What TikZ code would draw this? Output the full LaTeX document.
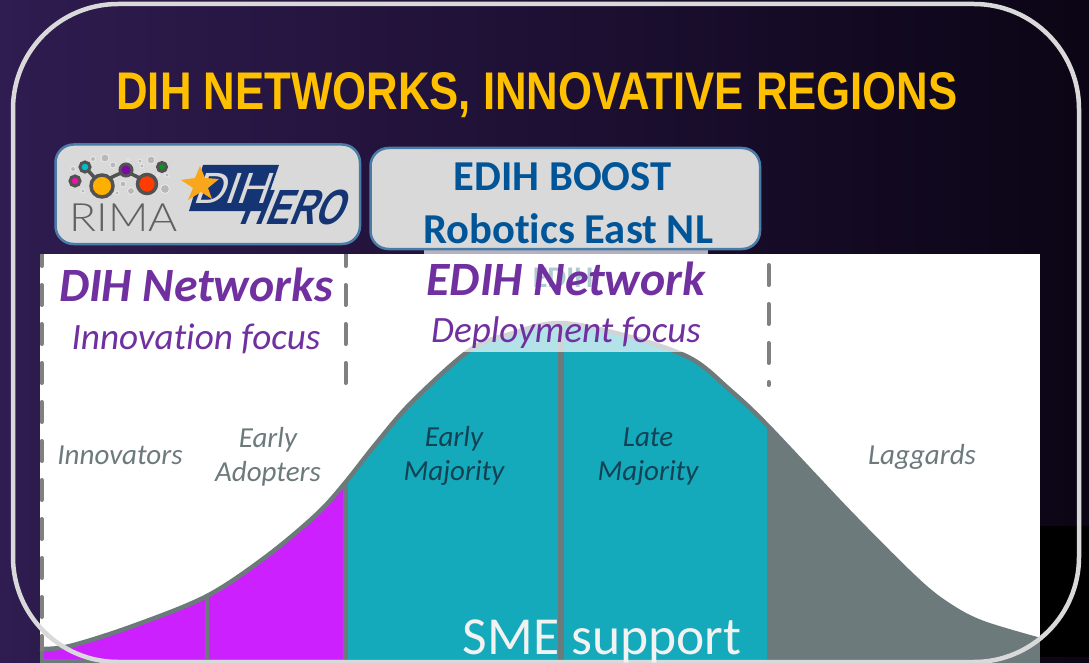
\documentclass[tikz,border=0pt]{standalone}
\usepackage{graphicx}
\usepackage{fontspec}
\setmainfont[Ligatures=NoCommon]{Carlito}
\newfontfamily\arialf{Liberation Sans}
\newfontfamily\latof[UprightFont=* Light]{Lato}
\definecolor{bgleft}{RGB}{47,28,80}
\definecolor{bgmid}{RGB}{30,16,52}
\definecolor{bgright}{RGB}{11,5,21}
\definecolor{titleyel}{RGB}{255,192,0}
\definecolor{boxfill}{RGB}{217,217,217}
\definecolor{boxedge}{RGB}{74,124,168}
\definecolor{edihblue}{RGB}{0,85,152}
\definecolor{herob}{RGB}{20,52,116}
\definecolor{netpurple}{RGB}{112,48,160}
\definecolor{curvegray}{RGB}{109,122,124}
\definecolor{dashgray}{RGB}{128,128,128}
\definecolor{fillpurple}{RGB}{204,32,255}
\definecolor{fillteal}{RGB}{20,170,187}
\definecolor{framegray}{RGB}{217,217,217}
\definecolor{darklabel}{RGB}{18,66,84}
\definecolor{cdot}{RGB}{0,190,205}
\definecolor{mdot}{RGB}{235,20,170}
\definecolor{pdot}{RGB}{120,10,165}
\definecolor{gdot}{RGB}{10,150,30}
\definecolor{ydot}{RGB}{255,175,0}
\definecolor{rdot}{RGB}{255,60,0}
\definecolor{staror}{RGB}{250,166,26}
\tikzset{
  lbl/.style={inner sep=0pt,outer sep=0pt,align=center},
  boxtxt/.style={lbl,text=edihblue,font=\bfseries\fontsize{42.6}{42.6}\selectfont},
  nethead/.style={lbl,text=netpurple,font=\bfseries\itshape\fontsize{47.8}{47.8}\selectfont},
  netsub/.style={lbl,text=netpurple,font=\itshape\fontsize{37.2}{37.2}\selectfont},
  adopter/.style={lbl,font=\itshape\fontsize{29}{34}\selectfont},
  logobox/.style={draw=boxedge,fill=boxfill,line width=2.5pt,rounded corners=18pt},
  vdash/.style={draw=dashgray,line width=4pt,line cap=round,dash pattern=on 20pt off 19pt},
  netring/.style={draw=black!68,line width=3pt},
  dotg/.style={fill=black!28,draw=black!8,line width=.8pt},
}
\def\bell{plot[smooth,tension=0.55] coordinates {(40,649) (70,646) (133,626) (207,596) (267,556) (317,514) (345,483) (375,445) (412,402) (470,350) (510,334) (560,323) (627,336) (690,358) (730,390) (767,425) (850,513) (917,580) (950,606) (983,623) (1040,640)}}
\begin{document}
\begin{tikzpicture}[x=1pt,y=-1pt]
\useasboundingbox (0,0) rectangle (1089,663);
% background
\shade[left color=bgleft,right color=bgright,middle color=bgmid] (0,0) rectangle (1089,663);
\fill[black] (1040,526) rectangle (1089,657);
% chart sheet
\fill[white] (40,254) rectangle (1040,663);
\begin{scope}
  \clip \bell -- (1040,663) -- (40,663) -- cycle;
  \fill[fillpurple] (40,254) rectangle (345,663);
  \fill[fillteal] (345,254) rectangle (767,663);
  \fill[curvegray] (767,254) rectangle (1040,663);
\end{scope}
\draw[curvegray,line width=4.5pt] \bell;
\begin{scope}
  \clip (40,254) rectangle (1040,663);
  \draw[curvegray,line width=4.5pt] (42,649) -- (42,661) -- (345,661);
  \draw[vdash] (41.5,246) -- (41.5,650);
  \draw[vdash] (345.5,246) -- (345.5,384);
\end{scope}
\begin{scope}
  \clip \bell -- (1040,663) -- (40,663) -- cycle;
  \draw[curvegray,line width=4pt] (207,560) -- (207,663);
  \draw[curvegray,line width=5pt] (345,450) -- (345,663);
  \draw[curvegray,line width=6.5pt] (561,300) -- (561,663);
\end{scope}
\draw[vdash] (768.5,265) -- (768.5,385);
% faint text below the veil
\node[lbl,text=black!45!fillteal] (ghost) at (563,278) {\fontsize{30}{30}\selectfont\bfseries EDIH};
% veil
\fill[white,opacity=.68] (424,249) rectangle (708,352);
% logo boxes
\draw[logobox] (55.5,144.5) rectangle (360,244);
\draw[logobox] (370.5,148) rectangle (760,249);
% RIMA logo
\foreach \x/\y/\r in {105/158/4,93/159/2.5,113/165/3,151/160/4,140/161/2,165/189/4.5,131/191/3.5,123/184/3,83/191/2,73/169/2.5,117/193/2,167/175/2,142/166/2,128/160/1.5,158/175/1.5}
  \filldraw[dotg] (\x,\y) circle[radius=\r];
\draw[black!68,line width=3.5pt] (85,167) -- (102,186) (102,186) .. controls (112,174) and (118,176) .. (126,170) (126,170) .. controls (132,176) and (140,176) .. (147,184);
\filldraw[netring,fill=cdot] (85,167) circle[radius=5];
\filldraw[netring,fill=mdot] (75,181) circle[radius=5];
\filldraw[netring,fill=pdot] (126,170) circle[radius=6];
\filldraw[netring,fill=gdot] (162,167) circle[radius=4.5];
\filldraw[netring,fill=ydot,line width=3.5pt] (102,186) circle[radius=11];
\filldraw[netring,fill=rdot,line width=3.5pt] (147,184) circle[radius=9.5];
\node[lbl,text=black!62] (rima) at (123.5,218) {\scalebox{1.14}[1]{\latof\fontsize{39}{39}\selectfont RIMA}};
% DIH HERO logo
\fill[herob] (203,165) -- (279,165) -- (263,211) -- (189,211) -- cycle;
\node[lbl,text=boxfill,xslant=.35,transform shape] (dih) at (235,188) {\scalebox{0.95}[0.95]{\arialf\fontsize{46}{46}\selectfont DIH}};
\node[lbl,text=herob,xslant=.4,transform shape] (hero) at (297,207) {\scalebox{0.74}[1.03]{\arialf\bfseries\fontsize{48}{48}\selectfont HERO}};
\fill[staror] (200,166) -- (205,178) -- (219,179) -- (208,188) -- (212,199) -- (201,192) -- (188,200) -- (193,188) -- (181,180) -- (195,178) -- cycle;
% texts
\node[lbl,text=titleyel] (title) at (537,95.5) {\scalebox{0.825}[1]{\arialf\bfseries\fontsize{53}{53}\selectfont DIH NETWORKS, INNOVATIVE REGIONS}};
\node[boxtxt] (boost) at (562.5,177) {EDIH BOOST};
\node[boxtxt] (robot) at (568,229) {Robotics East NL};
\node[nethead] (dihnet) at (196,285) {DIH Networks};
\node[netsub] (innov) at (196,339) {Innovation focus};
\node[nethead] (edihnet) at (566,279) {EDIH Network};
\node[netsub] (deploy) at (566,333) {Deployment focus};
\node[adopter,text=curvegray,anchor=base] (innovators) at (120,464) {Innovators};
\node[adopter,text=curvegray] (early) at (268,456.5) {Early\\Adopters};
\node[adopter,text=darklabel] (emaj) at (454,456) {Early\\Majority};
\node[adopter,text=darklabel] (lmaj) at (648,457) {Late\\Majority};
\node[adopter,text=curvegray,anchor=base] (lag) at (922,464) {Laggards};
% frame
\draw[framegray,line width=4.5pt,rounded corners=105pt] (13,4) rectangle (1079,662);
\node[lbl,text=white!95!black,anchor=base] (sme) at (602,654) {\fontsize{53.5}{53.5}\selectfont SME support};
\end{tikzpicture}
\end{document}
